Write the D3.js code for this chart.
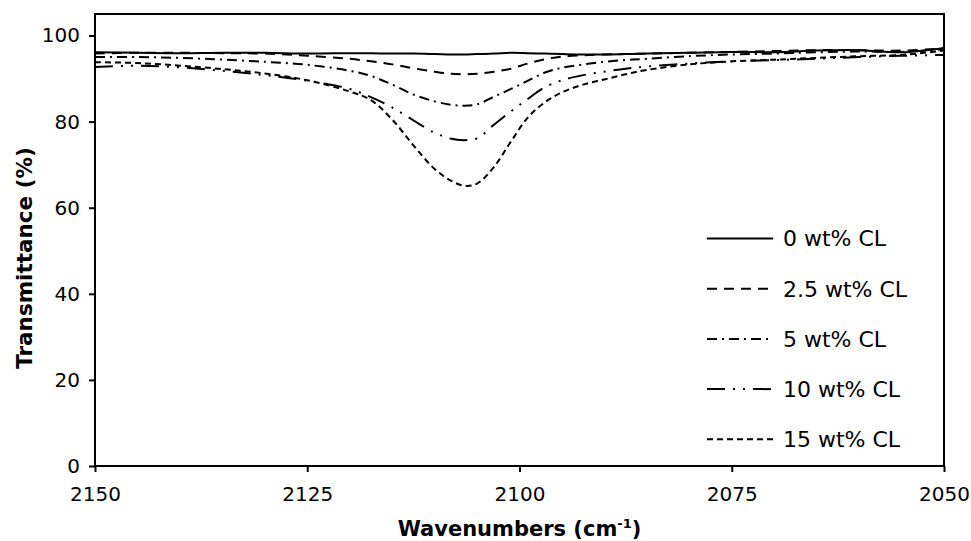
<!DOCTYPE html>
<html>
<head>
<meta charset="utf-8">
<script src="https://cdn.jsdelivr.net/npm/d3@7"></script>
<style>
  html, body { margin: 0; padding: 0; background: #fff; }
  svg { display: block; font-family: "DejaVu Sans", Verdana, sans-serif; }
</style>
</head>
<body>
<svg id="chart" width="971" height="541"></svg>
<script>
// Wavenumber grid (cm-1) shared by all spectra
const wavenumbers = [2150, 2145, 2140, 2135, 2130, 2125, 2120, 2117.5, 2115, 2112.5, 2110, 2108, 2106.5, 2105, 2103, 2101, 2099, 2097, 2095, 2092.5, 2090, 2087.5, 2085, 2080, 2075, 2070, 2065, 2060, 2055, 2050];

// Transmittance (%) for each crosslinker loading
const t0 = [96.1, 96.0, 95.9, 96.0, 96.0, 95.8, 95.9, 95.9, 95.8, 95.8, 95.7, 95.6, 95.6, 95.7, 95.8, 96.0, 95.9, 95.8, 95.7, 95.6, 95.6, 95.7, 95.8, 96.0, 96.2, 96.1, 96.5, 96.6, 96.1, 97.1];
const t25 = [95.8, 96.0, 96.0, 95.9, 95.8, 95.3, 94.6, 94.0, 93.3, 92.4, 91.6, 91.1, 91.0, 91.1, 91.6, 92.3, 93.5, 94.5, 95.1, 95.4, 95.6, 95.7, 95.8, 96.0, 96.2, 96.4, 96.6, 96.6, 96.5, 97.0];
const t5 = [95.0, 95.0, 94.8, 94.4, 93.9, 93.2, 91.8, 90.6, 88.6, 86.3, 84.7, 83.9, 83.7, 84.0, 85.8, 87.6, 89.5, 91.4, 92.5, 93.3, 93.9, 94.3, 94.6, 95.2, 95.6, 95.8, 96.1, 96.3, 96.2, 96.8];
const t10 = [92.7, 93.0, 92.6, 91.8, 90.8, 89.5, 87.6, 85.7, 83.3, 80.3, 77.4, 76.0, 75.7, 76.1, 79.3, 82.4, 85.3, 88.0, 89.6, 90.8, 91.6, 92.3, 92.8, 93.5, 94.0, 94.3, 94.6, 95.0, 95.3, 95.5];
const t15 = [93.8, 93.6, 93.0, 92.2, 91.2, 89.6, 87.0, 85.0, 80.5, 74.5, 69.0, 66.2, 65.1, 65.6, 69.5, 75.4, 81.0, 84.5, 86.8, 88.6, 89.8, 91.0, 92.0, 93.3, 94.0, 94.4, 94.8, 95.2, 95.5, 96.5];

const seriesNames = ["0 wt% CL", "2.5 wt% CL", "5 wt% CL", "10 wt% CL", "15 wt% CL"];
const seriesValues = [t0, t25, t5, t10, t15];
const dashStyles = [null, "10,7", "10,5,2,5", "18,8,2,8,2,8", "6,4"];

// Axis ticks
const xTicks = [2150, 2125, 2100, 2075, 2050];
const yTicks = [0, 20, 40, 60, 80, 100];

const svg = d3.select("#chart");
const margin = { left: 95, right: 27, top: 14, bottom: 75 };
const width = 971 - margin.left - margin.right;
const height = 541 - margin.top - margin.bottom;

const x = d3.scaleLinear().domain([2150, 2050]).range([0, width]);
const y = d3.scaleLinear().domain([0, 105]).range([height, 0]);

const g = svg.append("g").attr("transform", `translate(${margin.left},${margin.top})`);

// Axes
const yAxis = g.append("g")
  .call(d3.axisLeft(y).tickValues(yTicks).tickSize(6).tickPadding(9).tickFormat(d3.format("d")));
const xAxis = g.append("g")
  .attr("transform", `translate(0,${height})`)
  .call(d3.axisBottom(x).tickValues(xTicks).tickSize(6).tickPadding(15).tickFormat(d3.format("d")));

[xAxis, yAxis].forEach(a => {
  a.select(".domain").remove();
  a.selectAll(".tick line").attr("stroke", "#000").attr("stroke-width", 2);
  a.selectAll(".tick text").attr("fill", "#000").attr("font-size", 20)
    .attr("font-family", "'DejaVu Sans', Verdana, sans-serif");
});
xAxis.selectAll(".tick text").attr("dy", "0.71em");

// Spectra
const line = d3.line()
  .x((d, i) => x(wavenumbers[i]))
  .y(d => y(d))
  .curve(d3.curveCatmullRom.alpha(0.5));

g.append("clipPath").attr("id", "plotclip")
  .append("rect").attr("x", 0).attr("y", 0).attr("width", width).attr("height", height);

g.append("g").attr("clip-path", "url(#plotclip)")
  .selectAll("path")
  .data(seriesValues)
  .join("path")
  .attr("d", d => line(d))
  .attr("fill", "none")
  .attr("stroke", "#000")
  .attr("stroke-width", 2)
  .attr("stroke-dasharray", (d, i) => dashStyles[i]);

// Plot frame
g.append("rect")
  .attr("x", 0).attr("y", 0).attr("width", width).attr("height", height)
  .attr("fill", "none").attr("stroke", "#000").attr("stroke-width", 2);

// Legend
const legend = g.append("g").attr("transform", `translate(612,224.5)`);
const rowGap = 50.2;
seriesNames.forEach((name, i) => {
  const row = legend.append("g").attr("transform", `translate(0,${i * rowGap})`);
  row.append("line")
    .attr("x1", 0).attr("x2", 66).attr("y1", 0).attr("y2", 0)
    .attr("stroke", "#000").attr("stroke-width", 2)
    .attr("stroke-dasharray", dashStyles[i]);
  row.append("text")
    .attr("x", 76).attr("y", 0).attr("dy", "0.36em")
    .attr("font-size", 22).attr("fill", "#000")
    .text(name);
});

// Axis titles
svg.append("text")
  .attr("transform", `translate(31.5,258) rotate(-90)`)
  .attr("text-anchor", "middle")
  .attr("font-size", 21.5).attr("font-weight", "bold")
  .text("Transmittance (%)");

const xt = svg.append("text")
  .attr("x", margin.left + width / 2).attr("y", 536)
  .attr("text-anchor", "middle")
  .attr("font-size", 21).attr("font-weight", "bold");
xt.append("tspan").text("Wavenumbers (cm");
xt.append("tspan").attr("font-size", 13).attr("dy", -8).text("-1");
xt.append("tspan").attr("dy", 8).text(")");
</script>
</body>
</html>
